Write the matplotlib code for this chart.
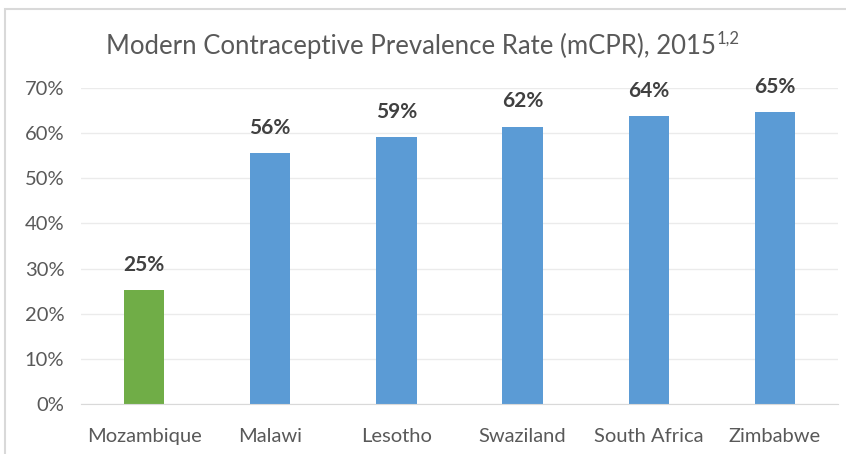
import matplotlib.pyplot as plt
from matplotlib.patches import Rectangle

# data
countries = ['Mozambique', 'Malawi', 'Lesotho', 'Swaziland', 'South Africa', 'Zimbabwe']
mcpr = [25.2, 55.6, 59.1, 61.4, 63.8, 64.6]
labels = ['25%', '56%', '59%', '62%', '64%', '65%']
bar_colors = ['#70AD47', '#5B9BD5', '#5B9BD5', '#5B9BD5', '#5B9BD5', '#5B9BD5']
yticks = [0, 10, 20, 30, 40, 50, 60, 70]

plt.rcParams['font.family'] = ['Lato', 'DejaVu Sans']

fig = plt.figure(figsize=(8.46, 4.54), dpi=100)
ax = fig.add_axes([81 / 846, 1 - 404 / 454, 757 / 846, 316 / 454])

x = range(len(countries))
ax.bar(x, mcpr, width=0.32, color=bar_colors, zorder=3)
for i, (v, t) in enumerate(zip(mcpr, labels)):
    ax.text(i, v + 3.4, t, ha='center', va='bottom', fontsize=15,
            fontweight='bold', color='#404040')

ax.set_xlim(-0.5, len(countries) - 0.5)
ax.set_ylim(0, 70)
ax.set_yticks(yticks)
ax.set_yticklabels([f'{t}%' for t in yticks])
ax.set_xticks(list(x))
ax.set_xticklabels(countries)
ax.tick_params(axis='both', length=0, labelsize=14.5, colors='#595959')
ax.tick_params(axis='y', pad=12)
ax.tick_params(axis='x', pad=17)
ax.grid(axis='y', color='#EBEBEB', linewidth=1, zorder=0)
for s in ['top', 'right', 'left']:
    ax.spines[s].set_visible(False)
ax.spines['bottom'].set_color('#D9D9D9')
ax.spines['bottom'].set_zorder(4)

title = fig.text(0.5 - 12 / 846, 1 - 46 / 454,
                 'Modern Contraceptive Prevalence Rate (mCPR), 2015',
                 ha='center', va='center', fontsize=18.5, color='#595959')
fig.canvas.draw()
bb = title.get_window_extent().transformed(fig.transFigure.inverted())
fig.text(bb.x1 + 1 / 846, bb.y1 + 2 / 454, '1,2', ha='left', va='top',
         fontsize=12, color='#595959')

# outer chart border (cut off at right and bottom)
fig.patches.append(Rectangle((5 / 846, -0.1), 1.1, 1 - 9 / 454 + 0.1,
                             transform=fig.transFigure, fill=False,
                             edgecolor='#D9D9D9', linewidth=1.5))

fig.savefig('out.png', dpi=100)
